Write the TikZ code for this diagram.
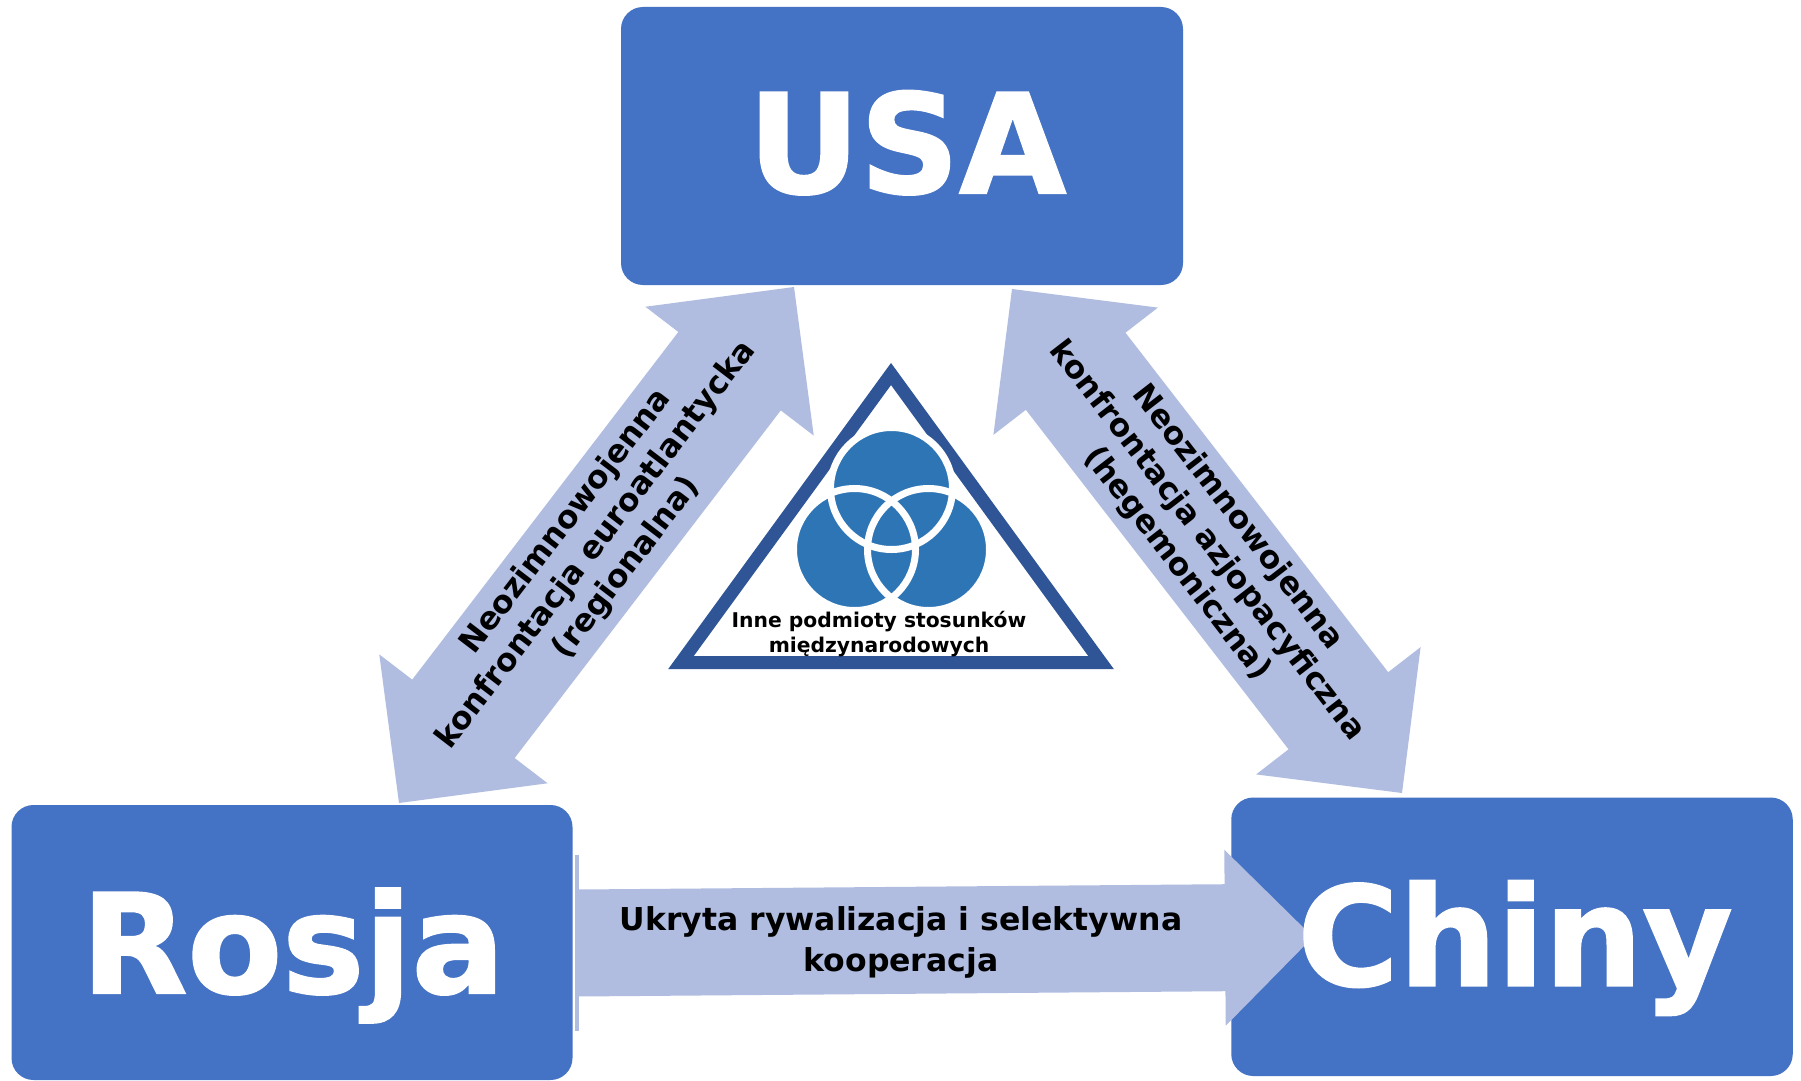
\documentclass[tikz,border=0pt]{standalone}
\usepackage{fontspec}
\setmainfont{DejaVu Sans}
\newfontfamily\heavyfont{DejaVu Sans}[BoldFeatures={FakeBold=1.5}]
\usetikzlibrary{calc}
\definecolor{boxblue}{RGB}{68,114,196}
\definecolor{arrowfill}{RGB}{176,189,224}
\definecolor{tricol}{RGB}{47,85,151}
\definecolor{venn}{RGB}{46,117,182}
% double block arrow: tipA tipB headlen headhalf shafthalf
\newcommand\dblarrow[5]{%
  \coordinate (#1-ha) at ($(#1)!#3!(#2)$);
  \coordinate (#1-hb) at ($(#2)!#3!(#1)$);
  \fill[arrowfill] (#1)
    -- ($(#1-ha)!#4!90:(#2)$) -- ($(#1-ha)!#5!90:(#2)$)
    -- ($(#1-hb)!#5!-90:(#1)$) -- ($(#1-hb)!#4!-90:(#1)$)
    -- (#2)
    -- ($(#1-hb)!#4!90:(#1)$) -- ($(#1-hb)!#5!90:(#1)$)
    -- ($(#1-ha)!#5!-90:(#2)$) -- ($(#1-ha)!#4!-90:(#2)$)
    -- cycle;
}
% single block arrow: tail tip headlen headhalf shafthalf
\newcommand\sglarrow[5]{%
  \coordinate (#1-hb) at ($(#2)!#3!(#1)$);
  \fill[arrowfill] ($(#1)!#5!90:(#2)$)
    -- ($(#1-hb)!#5!-90:(#1)$) -- ($(#1-hb)!#4!-90:(#1)$)
    -- (#2)
    -- ($(#1-hb)!#4!90:(#1)$) -- ($(#1-hb)!#5!90:(#1)$)
    -- ($(#1)!#5!-90:(#2)$)
    -- cycle;
}
\begin{document}
\begin{tikzpicture}[x=1pt,y=-1pt,
  box/.style={fill=boxblue,rounded corners=22pt,inner sep=0pt,draw=none},
  big/.style={font=\heavyfont\fontsize{138}{138}\selectfont\bfseries,text=white,inner sep=0pt},
  lbl/.style={font=\fontsize{31.5}{38}\selectfont\bfseries,align=center,inner sep=0pt},
  widelbl/.style={font=\fontsize{31.5}{41}\selectfont\bfseries,align=center,inner sep=0pt},
  smalllbl/.style={font=\fontsize{20.3}{24.5}\selectfont\bfseries,align=center,inner sep=0pt},
  tri/.style={draw=tricol,line width=13pt,line join=miter,fill=white},
  vennfill/.style={fill=venn},
  vennring/.style={draw=white,line width=7pt}]
\useasboundingbox (0,0) rectangle (1801,1081);
\fill[white] (0,0) rectangle (1801,1081);

% boxes
\node[box,minimum width=562pt,minimum height=278pt] (usa) at (902,146) {};
\node[box,minimum width=561pt,minimum height=275pt] (ros) at (292,942.5) {};
\node[box,minimum width=561.5pt,minimum height=278.5pt] (chi) at (1512,936.75) {};

% arrow tips
\coordinate (lu) at (794,287);
\coordinate (lr) at (399,803);
\coordinate (ru) at (1012,289);
\coordinate (rc) at (1402,793);
\coordinate (ba) at (577,943);
\coordinate (bb) at (1313,937);

\dblarrow{lu}{lr}{106pt}{106pt}{64.5pt}
\dblarrow{ru}{rc}{104pt}{104pt}{63pt}
\sglarrow{ba}{bb}{88pt}{88pt}{53.5pt}
\fill[arrowfill] (575,855) rectangle (579,1031);

% central triangle with Venn
\draw[tri] (891,374) -- (1101,662.5) -- (681,662.5) -- cycle;
\fill[vennfill] (891.5,488.5) circle[radius=61pt];
\fill[vennfill] (854.5,549.5) circle[radius=61pt];
\fill[vennfill] (928.5,549.5) circle[radius=61pt];
\draw[vennring] (891.5,488.5) circle[radius=61pt];
\draw[vennring] (854.5,549.5) circle[radius=61pt];
\draw[vennring] (928.5,549.5) circle[radius=61pt];

% texts
\node[big,anchor=base] (usaT) at (907,193) {USA};
\node[big,anchor=base] (rosT) at (293,993) {Rosja};
\node[big,anchor=base] (chiT) at (1515,985.5) {Chiny};

\node[lbl,rotate=52.56] (ltxt) at (596.5,545) {Neozimnowojenna\\konfrontacja euroatlantycka\\(regionalna)};
\node[lbl,rotate=-52.27] (rtxt) at (1207,541) {Neozimnowojenna\\konfrontacja azjopacyficzna\\(hegemoniczna)};
\node[widelbl] (btxt) at (901,942) {Ukryta rywalizacja i selektywna\\kooperacja};
\node[smalllbl] (ttxt) at (879,634) {Inne podmioty stosunków\\międzynarodowych};
\end{tikzpicture}
\end{document}
